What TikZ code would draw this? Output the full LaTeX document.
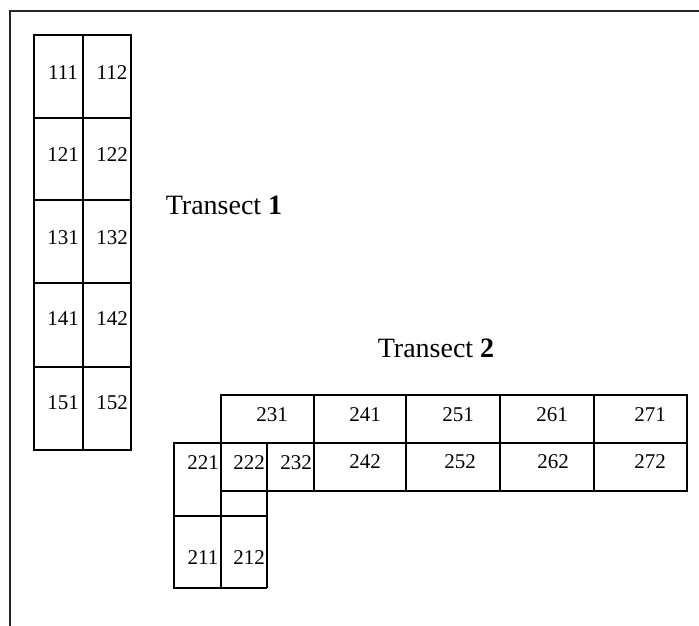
\documentclass[tikz,border=0pt]{standalone}
\usepackage{fontspec}
\setmainfont{Liberation Serif}
\begin{document}
\begin{tikzpicture}[x=1pt,y=-1pt,
  grid/.style={line width=1.8pt, line join=miter},
  frame/.style={line width=1.6pt, draw=black!85},
  num/.style={inner sep=0pt, font=\fontsize{21}{21}\selectfont},
  title/.style={inner sep=0pt, font=\fontsize{28}{28}\selectfont}]
\useasboundingbox (0,0) rectangle (699,626);
% page frame (cut by the picture edge on the right and bottom)
\draw[frame] (10,640) -- (10,11) -- (710,11);

% ---- Transect 1: two columns of five plots ----
\foreach \r/\ya/\yb [count=\i] in {1/35/118,2/118/200,3/200/283,4/283/367,5/367/450}{
  \draw[grid] (34,\ya) rectangle (83,\yb);
  \draw[grid] (83,\ya) rectangle (131,\yb);
}
\foreach \r/\y in {1/73,2/155,3/238,4/319,5/403}{
  \node[num] (p\r1) at (63,\y) {1\r1};
  \node[num] (p\r2) at (112,\y) {1\r2};
}
\node[title] (t1) at (224,205) {Transect \textbf{1}};

% ---- Transect 2 ----
% long double row
\draw[grid] (221,395) rectangle (687,491);
\draw[grid] (221,443) -- (687,443);
\foreach \x in {314,406,500,594} \draw[grid] (\x,395) -- (\x,491);
\draw[grid] (267,443) -- (267,588);
% bent leg
\draw[grid] (221,443) -- (174,443) -- (174,588) -- (267,588);
\draw[grid] (221,443) -- (221,588);
\draw[grid] (174,516) -- (267,516);

\node[num] (q231) at (272,415) {231};
\node[num] (q241) at (365,415) {241};
\node[num] (q251) at (458,415) {251};
\node[num] (q261) at (552,415) {261};
\node[num] (q271) at (650,415) {271};
\node[num] (q221) at (203,463) {221};
\node[num] (q222) at (249,463) {222};
\node[num] (q232) at (296,463) {232};
\node[num] (q242) at (365,462) {242};
\node[num] (q252) at (460,462) {252};
\node[num] (q262) at (553,462) {262};
\node[num] (q272) at (650,462) {272};
\node[num] (q211) at (203,558) {211};
\node[num] (q212) at (249,558) {212};
\node[title] (t2) at (436,348) {Transect \textbf{2}};
\end{tikzpicture}
\end{document}
